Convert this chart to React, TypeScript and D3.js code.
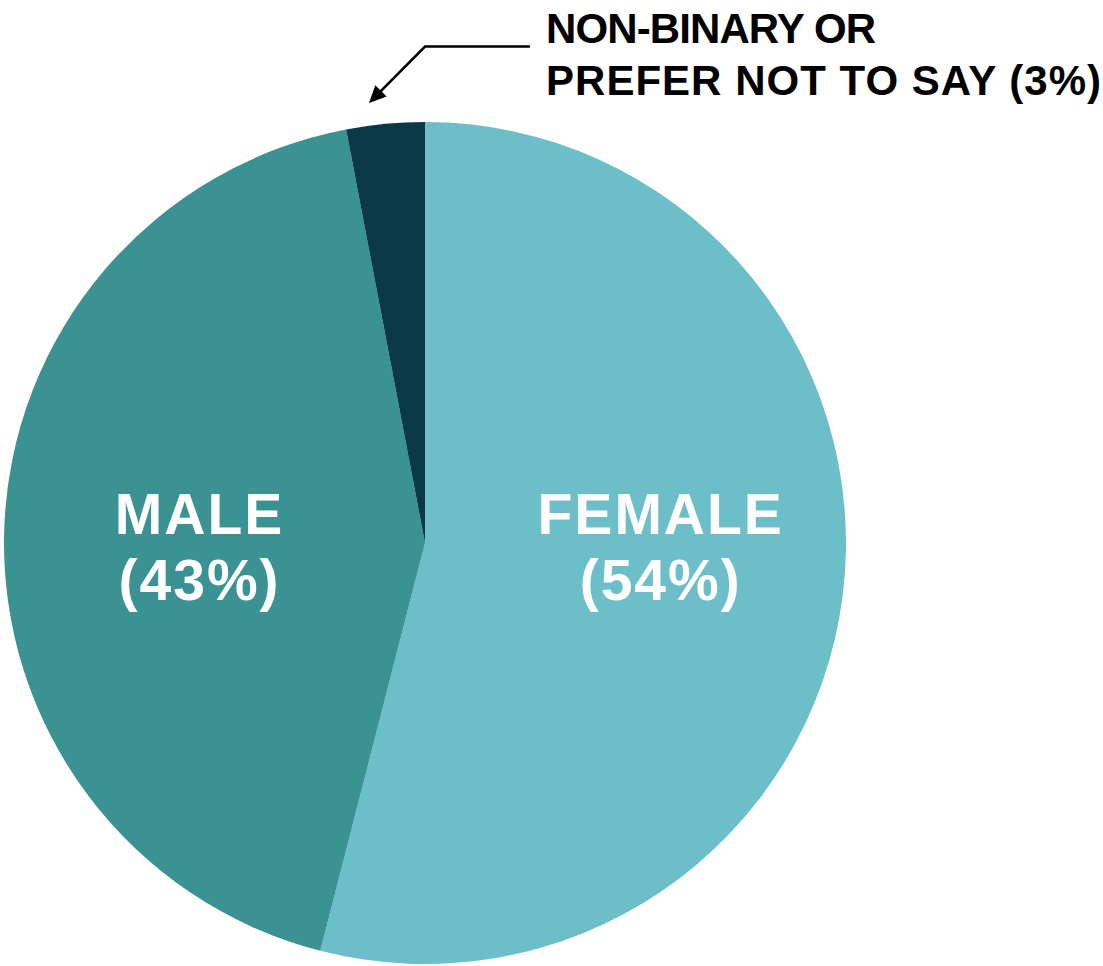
import React from "react";
import * as d3 from "d3";

const categories = ["FEMALE", "MALE", "NON-BINARY OR PREFER NOT TO SAY"];
const values = [54, 43, 3];
const colors = ["#6CBFC8", "#3A9293", "#0B3948"];

const W = 1103;
const H = 966;
const CX = 425;
const CY = 543;
const R = 421;

export default function App() {
  const pie = d3
    .pie<number>()
    .sort(null)
    .value((d) => d)
    .startAngle(0)
    .endAngle(2 * Math.PI);
  const arcs = pie(values);
  const arc = d3.arc<d3.PieArcDatum<number>>().innerRadius(0).outerRadius(R);
  const labelR = R * 0.55;
  const labelDX = 6;
  const font = "'Liberation Sans', Arial, Helvetica, sans-serif";

  // arrow geometry
  const elbowX = 425;
  const elbowY = 46.5;
  const tipX = 369;
  const tipY = 103;
  const ang = Math.atan2(tipY - elbowY, tipX - elbowX);
  const headL = 17;
  const headW = 8;
  const bx = tipX - headL * Math.cos(ang);
  const by = tipY - headL * Math.sin(ang);
  const px = -Math.sin(ang) * headW;
  const py = Math.cos(ang) * headW;

  return (
    <svg
      width={W}
      height={H}
      style={{ position: "absolute", left: 0, top: 0, background: "#fff" }}
    >
      <g transform={`translate(${CX},${CY})`}>
        {arcs.map((a, i) => (
          <path key={i} d={arc(a) || ""} fill={colors[i]} />
        ))}
        {arcs.slice(0, 2).map((a, i) => {
          const mid = (a.startAngle + a.endAngle) / 2;
          const x = labelR * Math.sin(mid) + labelDX;
          return (
            <text
              key={i}
              x={x}
              textAnchor="middle"
              fill="#fff"
              fontFamily={font}
              fontWeight="bold"
              fontSize={57}
              letterSpacing={2}
            >
              <tspan x={x} y={-9}>
                {categories[i]}
              </tspan>
              <tspan x={x} y={57}>
                {`(${values[i]}%)`}
              </tspan>
            </text>
          );
        })}
      </g>
      <path
        d={`M530,${elbowY} L${elbowX},${elbowY} L${bx + 2 * Math.cos(ang)},${by + 2 * Math.sin(ang)}`}
        fill="none"
        stroke="#000"
        strokeWidth={2.6}
      />
      <path
        d={`M${tipX},${tipY} L${bx + px},${by + py} L${bx - px},${by - py} Z`}
        fill="#000"
      />
      <text fontFamily={font} fontWeight="bold" fontSize={42} fill="#000">
        <tspan x={546} y={43} textLength={330} lengthAdjust="spacing">
          NON-BINARY OR
        </tspan>
        <tspan x={546} y={95} textLength={555} lengthAdjust="spacing">
          {`PREFER NOT TO SAY (${values[2]}%)`}
        </tspan>
      </text>
    </svg>
  );
}
